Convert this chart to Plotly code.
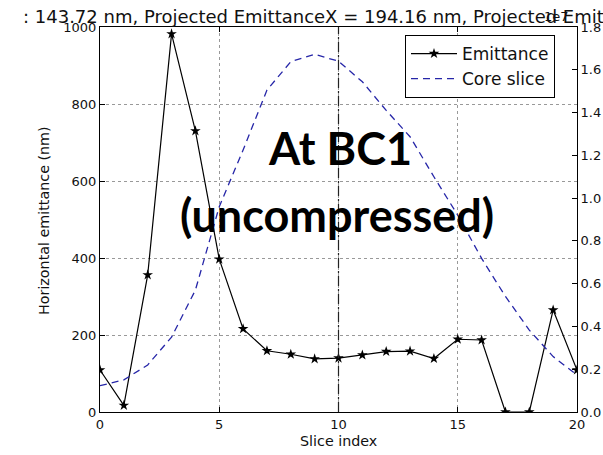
import plotly.graph_objects as go

# Slice-resolved horizontal emittance (nm) and the core-slice profile (in units of 1e7)
slice_index = list(range(21))
emittance_nm = [109, 17, 356, 982, 730, 397, 216, 159, 150, 138, 140,
                148, 157, 158, 139, 189, 187, 0, 0, 265, 109]
core_slice_1e7 = [0.123, 0.15, 0.22, 0.35, 0.57, 0.96, 1.225, 1.505, 1.638, 1.672, 1.64,
                  1.544, 1.41, 1.287, 1.10, 0.92, 0.718, 0.54, 0.383, 0.259, 0.173]

left_ticks = [0, 200, 400, 600, 800, 1000]
bottom_ticks = [0, 5, 10, 15, 20]
right_ticks = [0.0, 0.2, 0.4, 0.6, 0.8, 1.0, 1.2, 1.4, 1.6, 1.8]

title_text = ": 143.72 nm, Projected EmittanceX = 194.16 nm, Projected EmittanceY"

W, H = 603, 455
ML, MR, MT, MB = 100, 26, 27, 43
PW, PH = W - ML - MR, H - MT - MB


def px(x):
    return (x - ML) / PW


def py(y):
    return (H - MB - y) / PH


tick_font = dict(family="DejaVu Sans", size=13, color="#111")
label_font = dict(family="DejaVu Sans", size=14.3, color="#111")

fig = go.Figure()

fig.add_trace(go.Scatter(
    x=slice_index, y=emittance_nm, name="Emittance",
    mode="lines+markers",
    line=dict(color="black", width=1.2),
    marker=dict(symbol="star", size=8, color="black"),
    yaxis="y",
))
fig.add_trace(go.Scatter(
    x=slice_index, y=core_slice_1e7, name="Core slice",
    mode="lines",
    line=dict(color="#2626a8", width=1.3, dash="7px,5px"),
    yaxis="y2",
))

# vertical dash-dot marker at the core slice
fig.add_shape(type="line", xref="x", yref="paper", x0=10, x1=10, y0=0, y1=1,
              line=dict(color="#222", width=1.2, dash="10px,3px,2px,3px"))

fig.update_layout(
    width=W, height=H,
    margin=dict(l=ML, r=MR, t=MT, b=MB),
    paper_bgcolor="white", plot_bgcolor="white",
    showlegend=True,
    legend=dict(
        x=px(405), y=py(35), xanchor="left", yanchor="top",
        bgcolor="white", bordercolor="black", borderwidth=1,
        font=dict(family="DejaVu Sans", size=17, color="#111"),
        itemwidth=46,
    ),
    xaxis=dict(
        range=[0, 20], tickvals=bottom_ticks, ticks="inside", ticklen=5,
        tickcolor="black", showline=True, linecolor="black", linewidth=1,
        mirror="ticks", showgrid=True, gridcolor="#999", griddash="dot",
        gridwidth=1, zeroline=False, tickfont=tick_font, automargin=False,
    ),
    yaxis=dict(
        range=[0, 1000], tickvals=left_ticks, ticks="inside", ticklen=5,
        tickcolor="black", showline=True, linecolor="black", linewidth=1,
        showgrid=True, gridcolor="#999", griddash="dot", gridwidth=1,
        zeroline=False, tickfont=tick_font, automargin=False,
    ),
    yaxis2=dict(
        range=[0, 1.8], tickvals=right_ticks,
        ticktext=[f"{v:.1f}" for v in right_ticks],
        overlaying="y", side="right", ticks="inside", ticklen=5,
        tickcolor="black", showline=True, linecolor="black", linewidth=1,
        showgrid=False, zeroline=False, tickfont=tick_font, automargin=False,
    ),
)

# axis titles
fig.add_annotation(text="Slice index", xref="paper", yref="paper",
                   x=px(338), y=py(441), xanchor="center", yanchor="middle",
                   showarrow=False, font=label_font)
fig.add_annotation(text="Horizontal emittance (nm)", xref="paper", yref="paper",
                   x=px(44), y=py(221), xanchor="center", yanchor="middle",
                   textangle=-90, showarrow=False, font=label_font)

# overflowing title line
fig.add_annotation(text=title_text, xref="paper", yref="paper",
                   x=px(21), y=py(16), xanchor="left", yanchor="middle",
                   showarrow=False,
                   font=dict(family="DejaVu Sans", size=18, color="#111"))
# offset text of the right axis
fig.add_annotation(text="1e7", xref="paper", yref="paper",
                   x=px(556), y=py(17), xanchor="center", yanchor="middle",
                   showarrow=False,
                   font=dict(family="DejaVu Sans", size=13, color="#111"))

# big label
fig.add_annotation(text="<b>At BC1</b>", xref="paper", yref="paper",
                   x=px(340), y=py(148), xanchor="center", yanchor="middle",
                   showarrow=False, font=dict(family="Lato", size=45, color="black"))
fig.add_annotation(text="<b>(uncompressed)</b>", xref="paper", yref="paper",
                   x=px(337), y=py(215), xanchor="center", yanchor="middle",
                   showarrow=False, font=dict(family="Lato", size=45, color="black"))

fig.write_html("out.html")
